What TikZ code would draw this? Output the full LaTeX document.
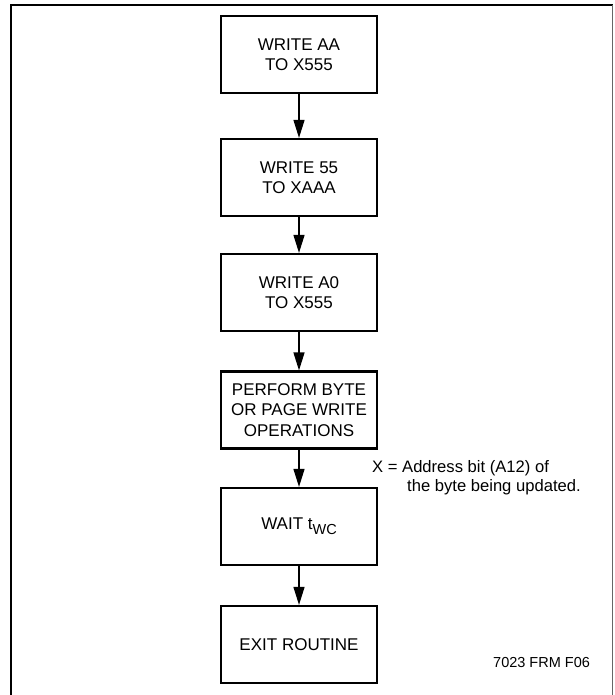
\documentclass[tikz,border=0pt]{standalone}
\usepackage{fontspec}
\setmainfont{Liberation Sans}
\usetikzlibrary{arrows.meta}
\begin{document}
\begin{tikzpicture}[x=1pt,y=-1pt,
  stepbox/.style={draw,line width=2.2pt,minimum width=156pt,minimum height=77pt,
    inner sep=0pt,align=center,font=\fontsize{17}{20.5}\selectfont},
  flow/.style={line width=1.3pt,-{Triangle[length=18pt,width=11pt]}},
  frameline/.style={line width=2.4pt}]
\useasboundingbox (0,0) rectangle (614,695);
% frame
\coordinate (ftl) at (11,5);
\coordinate (fbl) at (11,700);
\coordinate (ftr) at (612.5,5);
\coordinate (fbr) at (612.5,700);
\draw[frameline] (fbl) -- (ftl) -- (ftr);
\draw[line width=1.2pt,black!60] (ftr) -- (fbr);
% boxes
\node[stepbox] (b1) at (299,54.5) {WRITE AA\\TO X555};
\node[stepbox] (b2) at (299,177.5) {WRITE 55\\TO XAAA};
\node[stepbox] (b3) at (299,292.5) {WRITE A0\\TO X555};
\node[stepbox] (b4) at (299,410) {PERFORM BYTE\\OR PAGE WRITE\\OPERATIONS};
\node[stepbox] (b5) at (299,526.5) {WAIT t\raisebox{-5pt}{\fontsize{14.5}{14.5}\selectfont WC}};
\node[stepbox] (b6) at (299,644.5) {EXIT ROUTINE};
% connectors
\draw[flow] (b1.south) -- (b2.north);
\draw[flow] (b2.south) -- (b3.north);
\draw[flow] (b3.south) -- (b4.north);
\draw[flow] (b4.south) -- (b5.north);
\draw[flow] (b5.south) -- (b6.north);
% notes
\node[anchor=west,inner sep=0pt,align=left,font=\fontsize{16.6}{19}\selectfont] (note) at (372,477.5)
  {X = Address bit (A12) of\\\hspace*{35pt}the byte being updated.};
\node[anchor=west,inner sep=0pt,font=\fontsize{14.5}{17}\selectfont] (fig) at (493,662) {7023 FRM F06};
\end{tikzpicture}
\end{document}
